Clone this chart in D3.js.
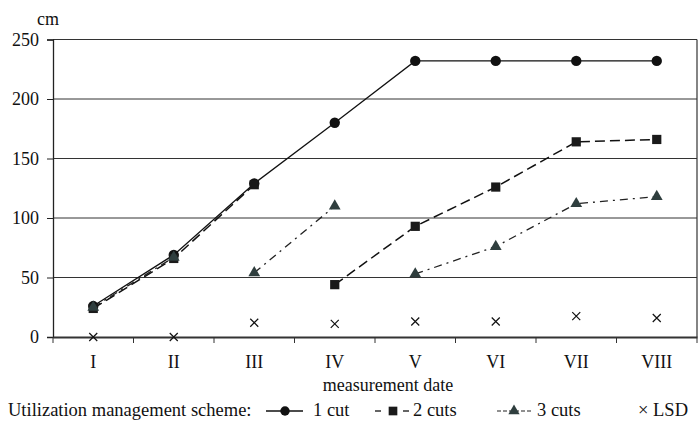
<!DOCTYPE html>
<html>
<head>
<meta charset="utf-8">
<script src="https://cdn.jsdelivr.net/npm/d3@7"></script>
<style>
  html, body { margin: 0; padding: 0; background: #fff; }
  svg { display: block; }
</style>
</head>
<body>
<svg id="chart" width="698" height="425"></svg>
<script>
// ---- data ----
const categories = ["I", "II", "III", "IV", "V", "VI", "VII", "VIII"];
const oneCut    = [26, 69, 129, 180, 232, 232, 232, 232];
const twoCuts   = [24, 66, 128, 44, 93, 126, 164, 166];
const threeCuts = [25, 67, 54, 110, 53, 76, 112, 118];
const lsd       = [0, 0, 12, 11, 13, 13, 17.5, 16];
// cut events: the line is broken after these dates
const oneCutBreaks = [];
const twoCutsBreaks = ["III"];
const threeCutsBreaks = ["II", "IV"];
const yTicks = [0, 50, 100, 150, 200, 250];
const seriesNames = ["1 cut", "2 cuts", "3 cuts", "LSD"];

// ---- layout ----
const FONT = '"Liberation Serif"';
const svg = d3.select("#chart");
const plot = { left: 53, right: 697, top: 39.5, bottom: 337 };
const fs = 18;

const x = d3.scaleBand().domain(categories).range([plot.left, plot.right]).padding(0);
const y = d3.scaleLinear().domain([0, 250]).range([plot.bottom, plot.top]);
const cx = c => x(c) + x.bandwidth() / 2;

function txt(sel) { return sel.style("font-family", FONT).attr("fill", "#111"); }

// gridlines
svg.append("g").selectAll("line").data(yTicks.filter(t => t > 0)).join("line")
  .attr("x1", plot.left).attr("x2", plot.right)
  .attr("y1", d => y(d)).attr("y2", d => y(d))
  .attr("stroke", "#333").attr("stroke-width", 1);

// right border
svg.append("line").attr("x1", plot.right).attr("x2", plot.right)
  .attr("y1", y(250)).attr("y2", y(0)).attr("stroke", "#333").attr("stroke-width", 1.2);

// y axis
const yAxis = d3.axisLeft(y).tickValues(yTicks).tickSize(6).tickPadding(8);
const gy = svg.append("g").attr("transform", `translate(${plot.left},0)`).call(yAxis);
gy.attr("font-family", null);
gy.select(".domain").attr("stroke", "#222").attr("stroke-width", 1.3);
gy.selectAll(".tick line").attr("stroke", "#222");
txt(gy.selectAll(".tick text")).attr("font-size", fs);

// x axis
const xAxis = d3.axisBottom(x).tickSize(0).tickPadding(18);
const gx = svg.append("g").attr("transform", `translate(0,${plot.bottom})`).call(xAxis);
gx.attr("font-family", null);
gx.select(".domain").attr("stroke", "#333").attr("stroke-width", 2);
txt(gx.selectAll(".tick text")).attr("font-size", fs);
// boundary ticks
const boundaries = categories.map(c => x(c)).concat([plot.right]);
svg.append("g").selectAll("line").data(boundaries).join("line")
  .attr("x1", d => d).attr("x2", d => d)
  .attr("y1", plot.bottom).attr("y2", plot.bottom + 6)
  .attr("stroke", "#333").attr("stroke-width", 1);

// axis titles
txt(svg.append("text")).attr("x", 37).attr("y", 25).attr("font-size", fs).text("cm");
txt(svg.append("text")).attr("x", 388).attr("y", 391).attr("text-anchor", "middle")
  .attr("font-size", fs).text("measurement date");

// ---- series ----
function segments(values, breaks) {
  const segs = [];
  let cur = [];
  categories.forEach((c, i) => {
    if (values[i] != null) cur.push({ c, v: values[i] });
    if (breaks.includes(c)) { segs.push(cur); cur = []; }
  });
  if (cur.length) segs.push(cur);
  return segs.filter(s => s.length > 1);
}
const line = d3.line().x(d => cx(d.c)).y(d => y(d.v));

const styles = [
  { values: oneCut, breaks: oneCutBreaks, stroke: "#111", dash: null, width: 1.3, sym: d3.symbolCircle, size: 85, fill: "#111" },
  { values: twoCuts, breaks: twoCutsBreaks, stroke: "#111", dash: "10,5", width: 1.5, sym: d3.symbolSquare, size: 85, fill: "#1a1a1a" },
  { values: threeCuts, breaks: threeCutsBreaks, stroke: "#222", dash: "8,5,2,5", width: 1.3, sym: d3.symbolTriangle, size: 60, fill: "#2f3e3e" }
];

styles.forEach(s => {
  svg.append("g").selectAll("path").data(segments(s.values, s.breaks)).join("path")
    .attr("d", line).attr("fill", "none").attr("stroke", s.stroke)
    .attr("stroke-width", s.width).attr("stroke-dasharray", s.dash);
});
styles.forEach(s => {
  svg.append("g").selectAll("path")
    .data(categories.map((c, i) => ({ c, v: s.values[i] })).filter(d => d.v != null))
    .join("path")
    .attr("d", d3.symbol().type(s.sym).size(s.size))
    .attr("transform", d => `translate(${cx(d.c)},${y(d.v)})`)
    .attr("fill", s.fill);
});

// LSD crosses
const cross = 4;
svg.append("g").selectAll("path")
  .data(categories.map((c, i) => ({ c, v: lsd[i] })))
  .join("path")
  .attr("d", d => {
    const px = cx(d.c), py = y(d.v);
    return `M${px - cross},${py - cross}L${px + cross},${py + cross}M${px - cross},${py + cross}L${px + cross},${py - cross}`;
  })
  .attr("stroke", "#111").attr("stroke-width", 1.2).attr("fill", "none");

// ---- legend ----
const ly = 416;
const lfs = 18.5;
const leg = svg.append("g");
txt(leg.append("text")).attr("x", 8).attr("y", ly).attr("font-size", lfs).text("Utilization management scheme:");
const symY = ly - 5;
// 1 cut
leg.append("line").attr("x1", 266).attr("x2", 303).attr("y1", symY).attr("y2", symY).attr("stroke", "#111").attr("stroke-width", 1.3);
leg.append("path").attr("d", d3.symbol().type(d3.symbolCircle).size(70)).attr("transform", `translate(285,${symY})`).attr("fill", "#111");
txt(leg.append("text")).attr("x", 313).attr("y", ly).attr("font-size", lfs).text(seriesNames[0]);
// 2 cuts
leg.append("line").attr("x1", 375).attr("x2", 409).attr("y1", symY).attr("y2", symY).attr("stroke", "#111").attr("stroke-width", 1.3).attr("stroke-dasharray", "6,28");
leg.append("line").attr("x1", 403).attr("x2", 409).attr("y1", symY).attr("y2", symY).attr("stroke", "#111").attr("stroke-width", 1.3);
leg.append("path").attr("d", d3.symbol().type(d3.symbolSquare).size(75)).attr("transform", `translate(393,${symY})`).attr("fill", "#1a1a1a");
txt(leg.append("text")).attr("x", 413).attr("y", ly).attr("font-size", lfs).text(seriesNames[1]);
// 3 cuts
leg.append("line").attr("x1", 497).attr("x2", 531).attr("y1", symY).attr("y2", symY).attr("stroke", "#222").attr("stroke-width", 1.2).attr("stroke-dasharray", "4,2");
leg.append("path").attr("d", d3.symbol().type(d3.symbolTriangle).size(55)).attr("transform", `translate(514,${symY})`).attr("fill", "#2f3e3e");
txt(leg.append("text")).attr("x", 537).attr("y", ly).attr("font-size", lfs).text(seriesNames[2]);
// LSD
txt(leg.append("text")).attr("x", 638).attr("y", ly).attr("font-size", lfs).text("× " + seriesNames[3]);
</script>
</body>
</html>
